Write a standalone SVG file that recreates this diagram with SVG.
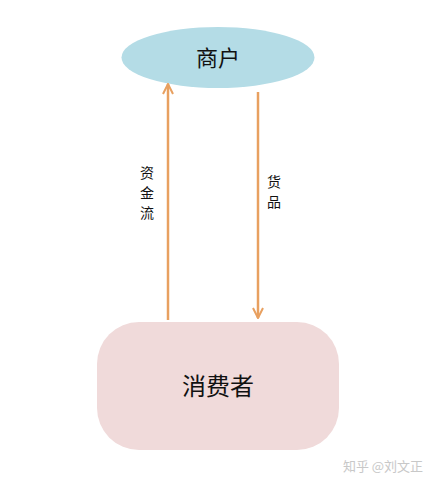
<svg xmlns="http://www.w3.org/2000/svg" width="439" height="487" viewBox="0 0 439 487">
<style>
text{font-family:"Noto Sans CJK SC","Liberation Sans",sans-serif;fill:#111;text-anchor:middle}
.lbl{font-size:14px}
.line{stroke:#e8a060;stroke-width:2.5;fill:none}
</style>
<defs>
<marker id="ah" viewBox="0 0 10 10" refX="9" refY="5" markerWidth="5" markerHeight="5" orient="auto" markerUnits="strokeWidth">
<path d="M1,1 L9,5 L1,9" fill="none" stroke="#e8a060" stroke-width="1.6"/>
</marker>
</defs>
<rect width="439" height="487" fill="#fff"/>
<g id="merchant">
<ellipse cx="218" cy="57.5" rx="96.5" ry="30.5" fill="#b4dce6"/>
<text x="218" y="66" font-size="22">商户</text>
</g>
<g id="consumer">
<rect x="97" y="322" width="242" height="128" rx="42" fill="#f0dada"/>
<text x="218" y="395" font-size="24">消费者</text>
</g>
<g id="connectors">
<line class="line" x1="168" y1="320" x2="168" y2="84" marker-end="url(#ah)"/>
<line class="line" x1="258" y1="92" x2="258" y2="318" marker-end="url(#ah)"/>
<text class="lbl" x="147" y="178">资</text>
<text class="lbl" x="147" y="198">金</text>
<text class="lbl" x="147" y="218">流</text>
<text class="lbl" x="274" y="187">货</text>
<text class="lbl" x="274" y="207">品</text>
</g>
<text x="383" y="471" font-size="13" style="fill:#c8c8c8">知乎 @刘文正</text>
</svg>
